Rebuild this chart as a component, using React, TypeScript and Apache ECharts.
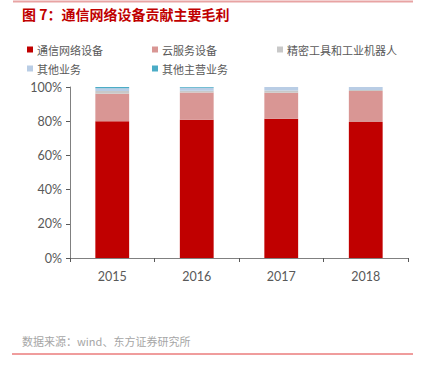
import React, { useEffect, useRef } from "react";
import * as echarts from "echarts";

const categories = ["2015", "2016", "2017", "2018"];
const seriesNames = ["通信网络设备", "云服务设备", "精密工具和工业机器人", "其他业务", "其他主营业务"];
const telecom = [80.0, 80.8, 81.4, 79.6];
const cloud = [16.0, 16.0, 15.3, 18.1];
const precision = [1.6, 1.0, 1.2, 0.6];
const otherBiz = [1.6, 1.7, 2.1, 1.7];
const otherMain = [0.8, 0.5, 0.0, 0.0];
const yTicks = [0, 20, 40, 60, 80, 100];
const colors = ["#C00000", "#D99694", "#C8C8C8", "#B9CDE5", "#4BACC6"];

const FONT = "Lato, 'Noto Sans CJK SC', sans-serif";
const CJK = "'Noto Sans CJK SC', sans-serif";

export default function App() {
  const ref = useRef<HTMLDivElement>(null);
  useEffect(() => {
    const chart = echarts.init(ref.current!, null, { renderer: "svg" });
    const values = [telecom, cloud, precision, otherBiz, otherMain];
    const legendPos = [
      { left: 27, top: 44 },
      { left: 152, top: 44 },
      { left: 277, top: 44 },
      { left: 27, top: 63 },
      { left: 152, top: 63 },
    ];
    chart.setOption({
      animation: false,
      backgroundColor: "#ffffff",
      graphic: [
        { type: "line", shape: { x1: 13, y1: 1.5, x2: 413, y2: 1.5 }, style: { stroke: "#E8A3A3", lineWidth: 2 } },
        {
          type: "text",
          left: 22,
          top: 7,
          style: { text: "图 7：通信网络设备贡献主要毛利", fill: "#C00000", font: `bold 14px ${CJK}` },
        },
        {
          type: "text",
          left: 22,
          top: 335,
          style: { text: "数据来源：wind、东方证券研究所", fill: "#A6A6A6", font: `11px ${CJK}` },
        },
        { type: "line", shape: { x1: 12, y1: 354, x2: 413, y2: 354 }, style: { stroke: "#E03A3A", lineWidth: 1 } },
      ],
      legend: seriesNames.map((n, i) => ({
        data: [n],
        left: legendPos[i].left,
        top: legendPos[i].top,
        icon: "rect",
        itemWidth: 6,
        itemHeight: 6,
        itemGap: 4,
        padding: 0,
        selectedMode: false,
        textStyle: { color: "#595959", fontSize: 11, fontFamily: CJK, padding: [0, 0, 0, -1] },
      })),
      grid: { left: 70, right: 13, top: 87, bottom: 117, containLabel: false },
      xAxis: {
        type: "category",
        data: categories,
        axisLine: { lineStyle: { color: "#808080", width: 1 } },
        axisTick: { show: true, alignWithLabel: false, length: 4, lineStyle: { color: "#595959" } },
        axisLabel: { color: "#595959", fontSize: 12.5, fontFamily: FONT, margin: 12 },
      },
      yAxis: {
        type: "value",
        min: 0,
        max: 100,
        interval: 20,
        axisLine: { show: true, lineStyle: { color: "#808080" } },
        axisTick: { show: true, length: 4, lineStyle: { color: "#595959" } },
        splitLine: { show: false },
        axisLabel: {
          color: "#595959",
          fontSize: 12.5,
          fontFamily: FONT,
          margin: 8,
          formatter: (v: number) => (yTicks.includes(v) ? `${v}%` : ""),
        },
      },
      series: seriesNames.map((n, i) => ({
        name: n,
        type: "bar",
        stack: "total",
        barWidth: "40%",
        data: values[i],
        itemStyle: { color: colors[i] },
      })),
    });
    return () => chart.dispose();
  }, []);
  return <div ref={ref} style={{ width: 421, height: 375, position: "absolute", left: 0, top: 0 }} />;
}
